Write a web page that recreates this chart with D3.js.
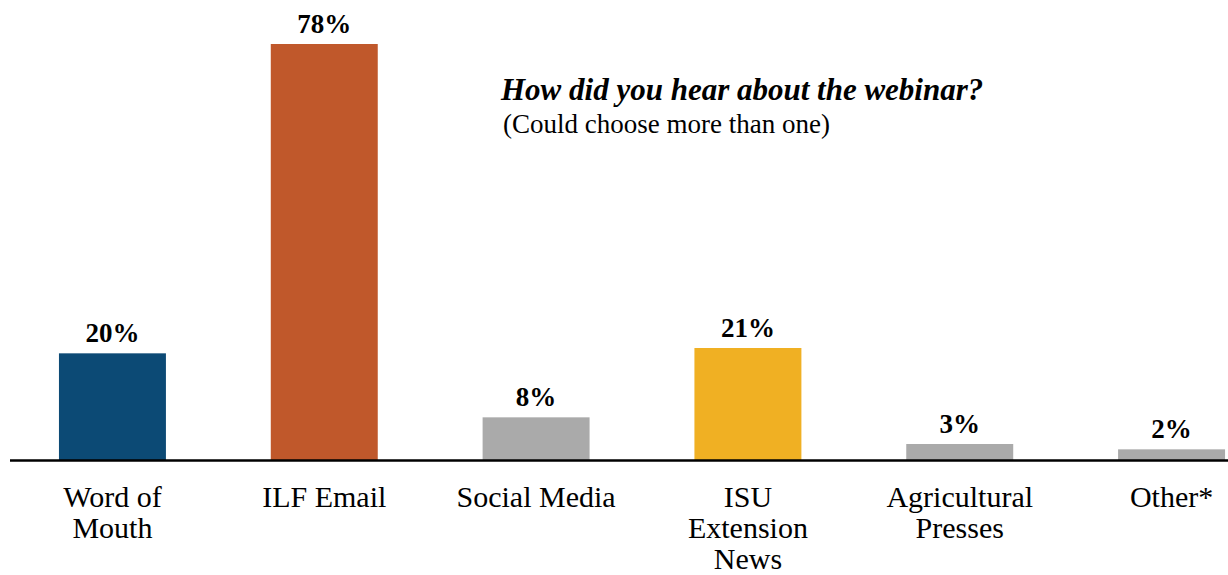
<!DOCTYPE html>
<html>
<head>
<meta charset="utf-8">
<script src="https://cdn.jsdelivr.net/npm/d3@7"></script>
<style>
  html, body { margin: 0; padding: 0; background: #fff; }
  svg { display: block; }
</style>
</head>
<body>
<svg id="chart" width="1228" height="575"></svg>
<script>
// Survey answers: how respondents heard about the webinar
const categories = ["Word of Mouth", "ILF Email", "Social Media", "ISU Extension News", "Agricultural Presses", "Other*"];
const categoryLines = [["Word of", "Mouth"], ["ILF Email"], ["Social Media"], ["ISU", "Extension", "News"], ["Agricultural", "Presses"], ["Other*"]];
const percents = [20, 78, 8, 21, 3, 2];
const barColors = ["#0C4A75", "#C0582B", "#AAAAAA", "#F0B023", "#AAAAAA", "#AAAAAA"];
const titleText = "How did you hear about the webinar?";
const subtitleText = "(Could choose more than one)";

const W = 1228, H = 575;
const baseline = 460;
const SERIF = "'Liberation Serif', 'DejaVu Serif', serif";

const svg = d3.select("#chart");

const x = d3.scaleBand()
  .domain(categories)
  .range([6, 1278])
  .paddingInner(0.495)
  .paddingOuter(0.25);

const y = d3.scaleLinear()
  .domain([0, 78])
  .range([baseline, 44]);

// Bars
svg.append("g")
  .selectAll("rect")
  .data(categories)
  .join("rect")
  .attr("x", d => x(d))
  .attr("y", (d, i) => y(percents[i]))
  .attr("width", x.bandwidth())
  .attr("height", (d, i) => baseline - y(percents[i]))
  .attr("fill", (d, i) => barColors[i]);

// Value labels above each bar
svg.append("g")
  .selectAll("text")
  .data(categories)
  .join("text")
  .style("font-family", SERIF)
  .attr("x", d => x(d) + x.bandwidth() / 2)
  .attr("y", (d, i) => y(percents[i]) - 11)
  .attr("text-anchor", "middle")
  .attr("font-size", 27)
  .attr("font-weight", "bold")
  .text((d, i) => percents[i] + "%");

// Category axis (labels wrapped onto several lines)
const axis = svg.append("g")
  .attr("transform", `translate(0,${baseline})`)
  .call(d3.axisBottom(x).tickSize(0).tickPadding(0));
axis.select(".domain").remove();
axis.selectAll(".tick text")
  .style("font-family", SERIF)
  .style("font-size", "30px")
  .attr("fill", "#000")
  .attr("dy", null)
  .attr("y", 0)
  .each(function(d) {
    const lines = categoryLines[categories.indexOf(d)];
    const t = d3.select(this).text(null);
    lines.forEach((ln, k) => {
      t.append("tspan")
        .attr("x", 0)
        .attr("y", 47 + k * 31)
        .text(ln);
    });
  });

// Baseline rule
svg.append("line")
  .attr("x1", 10).attr("x2", W)
  .attr("y1", baseline + 0.5).attr("y2", baseline + 0.5)
  .attr("stroke", "#000")
  .attr("stroke-width", 2.6);

// Title block
svg.append("text")
  .style("font-family", SERIF)
  .attr("x", 501)
  .attr("y", 100)
  .attr("font-size", 31)
  .attr("font-weight", "bold")
  .attr("font-style", "italic")
  .text(titleText);

svg.append("text")
  .style("font-family", SERIF)
  .attr("x", 503)
  .attr("y", 133)
  .attr("font-size", 27)
  .text(subtitleText);
</script>
</body>
</html>
